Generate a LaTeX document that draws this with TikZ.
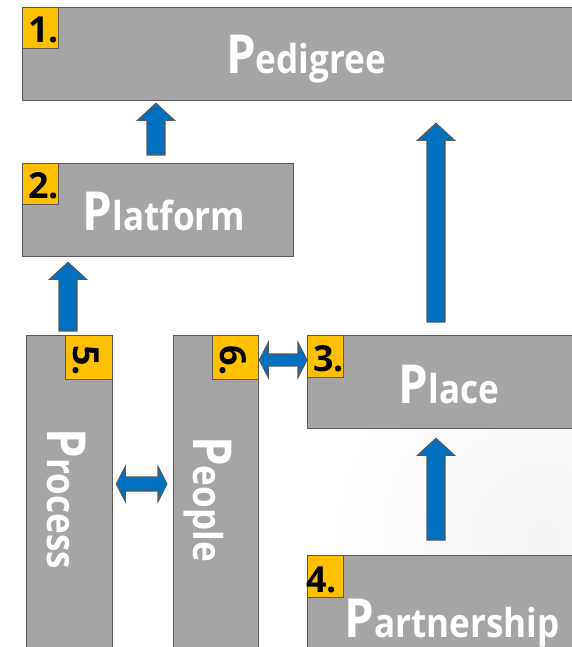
\documentclass[tikz,border=0pt]{standalone}
\usepackage{fontspec}
\setmainfont{Open Sans}
\usetikzlibrary{calc}
\definecolor{boxgray}{HTML}{A5A5A5}
\definecolor{edgegray}{HTML}{595959}
\definecolor{tagyellow}{HTML}{FFC000}
\definecolor{arrowblue}{HTML}{0070C0}
\newcommand\PWord[2]{\scalebox{0.88}[1]{\fontsize{54}{54}\selectfont #1\fontsize{40}{40}\selectfont #2}}
\newcommand\UpArr[5]{% #1 lower node, #2 upper node, #3 x, #4 gap below, #5 gap above
  \filldraw[arrowstyle] let \p1=(#1.north), \p2=(#2.south), \p3=(#3,0) in
   ({\x3-9bp},{\y1+#4*1bp}) -- ({\x3-9bp},{\y2-#5*1bp-17bp}) -- ({\x3-18.5bp},{\y2-#5*1bp-17bp})
   -- ({\x3},{\y2-#5*1bp}) -- ({\x3+18.5bp},{\y2-#5*1bp-17bp}) -- ({\x3+9bp},{\y2-#5*1bp-17bp})
   -- ({\x3+9bp},{\y1+#4*1bp}) -- cycle;}
\newcommand\DblArr[6]{% #1 left node, #2 right node, #3 y, #4 gap left, #5 gap right, #6 shaft half
  \filldraw[arrowstyle] let \p1=(#1.east), \p2=(#2.west), \p3=(0,#3) in
   ({\x1+#4*1bp},{\y3}) -- ({\x1+#4*1bp+9bp},{\y3+17.5bp}) -- ({\x1+#4*1bp+9bp},{\y3+#6*1bp})
   -- ({\x2-#5*1bp-9bp},{\y3+#6*1bp}) -- ({\x2-#5*1bp-9bp},{\y3+17.5bp}) -- ({\x2-#5*1bp},{\y3})
   -- ({\x2-#5*1bp-9bp},{\y3-17.5bp}) -- ({\x2-#5*1bp-9bp},{\y3-#6*1bp})
   -- ({\x1+#4*1bp+9bp},{\y3-#6*1bp}) -- ({\x1+#4*1bp+9bp},{\y3-17.5bp}) -- cycle;}
\tikzset{
  box/.style={draw=edgegray, fill=boxgray, line width=1.3bp, anchor=north west, inner sep=0pt},
  tagbox/.style={draw=edgegray, fill=tagyellow, line width=1.3bp, anchor=north west, inner sep=0pt},
  tagnum/.style={anchor=base west, inner sep=0pt, text=black, font=\bfseries\fontsize{36}{36}\selectfont},
  word/.style={anchor=base, inner sep=0pt, text=white, font=\bfseries},
  arrowstyle/.style={fill=arrowblue, draw=edgegray, line width=1.1bp, line join=miter}
}
\begin{document}
\begin{tikzpicture}[x=1bp, y=-1bp]
\useasboundingbox (0,0) rectangle (572,647);
\clip (0,0) rectangle (572,647);
\fill[white] (0,0) rectangle (572,647);
\shade[inner color=black!4, outer color=white] (545,540) circle (220);
% boxes
\node[box, minimum width=568bp, minimum height=93bp] (ped) at (22,7) {};
\node[box, minimum width=271bp, minimum height=93bp] (plat) at (22,163) {};
\node[box, minimum width=86bp, minimum height=330bp] (proc) at (26,335) {};
\node[box, minimum width=85bp, minimum height=330bp] (peop) at (173,335) {};
\node[box, minimum width=283bp, minimum height=93bp] (place) at (307,335) {};
\node[box, minimum width=283bp, minimum height=110bp] (part) at (307,555) {};
% tags
\node[tagbox, minimum width=36bp, minimum height=41bp] (l1) at (22,7) {};
\node[tagbox, minimum width=36bp, minimum height=41bp] (l2) at (22,163) {};
\node[tagbox, minimum width=36bp, minimum height=42bp] (l3) at (307,335) {};
\node[tagbox, minimum width=36bp, minimum height=42bp] (l4) at (307,555) {};
\node[tagbox, minimum width=47bp, minimum height=44bp] (l5) at (65,335) {};
\node[tagbox, minimum width=46bp, minimum height=44bp] (l6) at (212,335) {};
\node[tagnum] (n1) at (28,43) {1.};
\node[tagnum] (n2) at (28,198) {2.};
\node[tagnum] (n3) at (313,371) {3.};
\node[tagnum] (n4) at (306,592) {4.};
\node[tagnum, rotate=-90] (n5) at (73,345) {5.};
\node[tagnum, rotate=-90] (n6) at (220,345) {6.};
% words
\node[word] (t-ped) at (306,74) {\PWord{P}{edigree}};
\node[word] (t-plat) at (164,230) {\PWord{P}{latform}};
\node[word] (t-place) at (449,403) {\PWord{P}{lace}};
\node[word] (t-part) at (452,637) {\PWord{P}{artnership}};
\node[word, rotate=-90] (t-proc) at (47,499) {\PWord{P}{rocess}};
\node[word, rotate=-90] (t-peop) at (193,499) {\PWord{P}{eople}};
% arrows
\UpArr{plat}{ped}{156}{8}{2}
\UpArr{proc}{plat}{68}{4}{5}
\UpArr{place}{ped}{436}{13}{22}
\UpArr{part}{place}{436}{15}{9}
\DblArr{proc}{peop}{484}{3}{6}{7}
\DblArr{l6}{l3}{360}{0}{0}{6}
\end{tikzpicture}
\end{document}
